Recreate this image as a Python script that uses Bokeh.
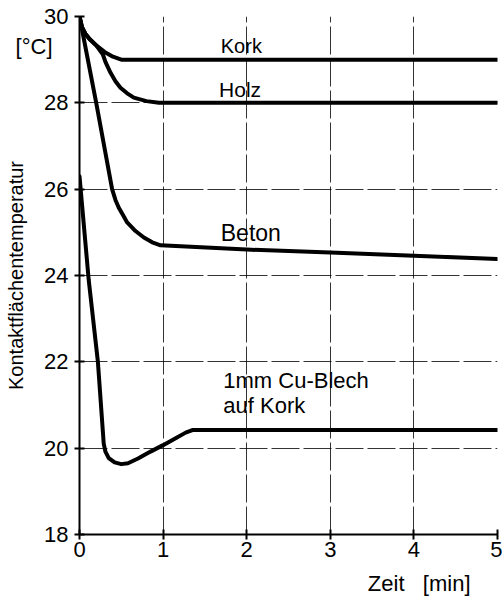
import math
from bokeh.plotting import figure
from bokeh.models import Range1d, FixedTicker, Label, Title, LinearAxis, CustomJSTickFormatter
from bokeh.embed import file_html
from bokeh.resources import INLINE

# ---- data ----
kork_x = [0, 0.03, 0.07, 0.12, 0.2, 0.3, 0.4, 0.5, 5]
kork_y = [30, 29.75, 29.6, 29.48, 29.33, 29.18, 29.07, 29.0, 29.0]

holz_x = [0, 0.03, 0.07, 0.12, 0.2, 0.28, 0.31, 0.37, 0.43, 0.49, 0.57, 0.65, 0.8, 0.95, 5]
holz_y = [30, 29.75, 29.6, 29.48, 29.33, 29.12, 28.95, 28.7, 28.5, 28.35, 28.22, 28.12, 28.04, 28.0, 28.0]

beton_x = [0, 0.2, 0.39, 0.43, 0.47, 0.52, 0.57, 0.67, 0.77, 0.87, 0.97, 2, 3, 4, 5]
beton_y = [30, 28.0, 26.0, 25.75, 25.57, 25.4, 25.23, 25.03, 24.88, 24.77, 24.7, 24.6, 24.53, 24.46, 24.38]

cu_x = [0, 0.11, 0.22, 0.29, 0.31, 0.35, 0.42, 0.5, 0.58, 0.7, 0.85, 1.0, 1.15, 1.27, 1.35, 5]
cu_y = [26.3, 23.9, 22.0, 20.1, 19.92, 19.77, 19.67, 19.63, 19.65, 19.76, 19.92, 20.07, 20.23, 20.36, 20.42, 20.42]

x_ticks = [0, 1, 2, 3, 4, 5]
y_ticks = [18, 20, 22, 24, 26, 28, 30]

FONT = "Liberation Sans"

p = figure(width=502, height=605, output_backend="svg", toolbar_location=None,
           x_range=Range1d(0, 5), y_range=Range1d(18, 30),
           min_border_left=79, min_border_right=5, min_border_top=16, min_border_bottom=71)
p.outline_line_color = None
p.background_fill_color = "white"

# grid
p.xgrid.ticker = FixedTicker(ticks=[1, 2, 3, 4, 5])
p.ygrid.ticker = FixedTicker(ticks=[20, 22, 24, 26, 28, 30])
for g in (p.xgrid, p.ygrid):
    g.grid_line_color = "black"
    g.grid_line_width = 1
    g.grid_line_dash = "28 4"
    g.grid_line_alpha = 0.8

# axes
p.xaxis.ticker = FixedTicker(ticks=x_ticks)
p.yaxis.ticker = FixedTicker(ticks=y_ticks)
for ax in (p.xaxis, p.yaxis):
    ax.axis_line_color = "black"
    ax.axis_line_width = 2
    ax.major_tick_line_color = "black"
    ax.major_tick_line_width = 2
    ax.major_tick_in = 5
    ax.major_tick_out = 5
    ax.minor_tick_line_color = None
    ax.major_label_text_font = FONT
    ax.major_label_text_font_size = "22px"
    ax.major_label_text_color = "black"
p.yaxis.major_label_standoff = 6
p.xaxis.major_label_standoff = 2

p.yaxis.axis_label = "Kontaktflächentemperatur"
p.yaxis.axis_label_text_font = FONT
p.yaxis.axis_label_text_font_size = "20px"
p.yaxis.axis_label_text_font_style = "normal"
p.yaxis.axis_label_text_color = "black"
p.yaxis.axis_label_standoff = 14

# unit "[°C]" at the top left, as a label-only axis
unit_axis = LinearAxis(ticker=FixedTicker(ticks=[29.3]),
                       formatter=CustomJSTickFormatter(code="return '[°C]'"))
unit_axis.axis_line_color = None
unit_axis.major_tick_line_color = None
unit_axis.minor_tick_line_color = None
unit_axis.major_tick_in = 0
unit_axis.major_tick_out = 0
unit_axis.major_label_standoff = -50
unit_axis.major_label_text_font = FONT
unit_axis.major_label_text_font_size = "22px"
unit_axis.major_label_text_color = "black"
p.add_layout(unit_axis, "left")

# curves
for xs, ys in ((kork_x, kork_y), (holz_x, holz_y), (beton_x, beton_y), (cu_x, cu_y)):
    p.line(xs, ys, line_color="black", line_width=4, line_join="round", line_cap="round")

# curve labels
def lab(x, y, t, size, **kw):
    p.add_layout(Label(x=x, y=y, text=t, text_font=FONT, text_font_size=size,
                       text_color="black", text_baseline="alphabetic", **kw))

lab(1.69, 29.32, "Kork", "20px")
lab(1.67, 28.32, "Holz", "21px")
lab(1.69, 24.98, "Beton", "23px")
lab(1.72, 21.56, "1mm Cu-Blech", "22px")
lab(1.72, 20.99, "auf Kork", "22px")

# x axis title (bottom right)
t = Title(text="Zeit\u00a0\u00a0\u00a0[min]", align="right", text_font=FONT, text_font_size="22px",
          text_font_style="normal", text_color="black", offset=27, standoff=19)
p.add_layout(t, "below")

open("out.html", "w").write(file_html(p, INLINE))
